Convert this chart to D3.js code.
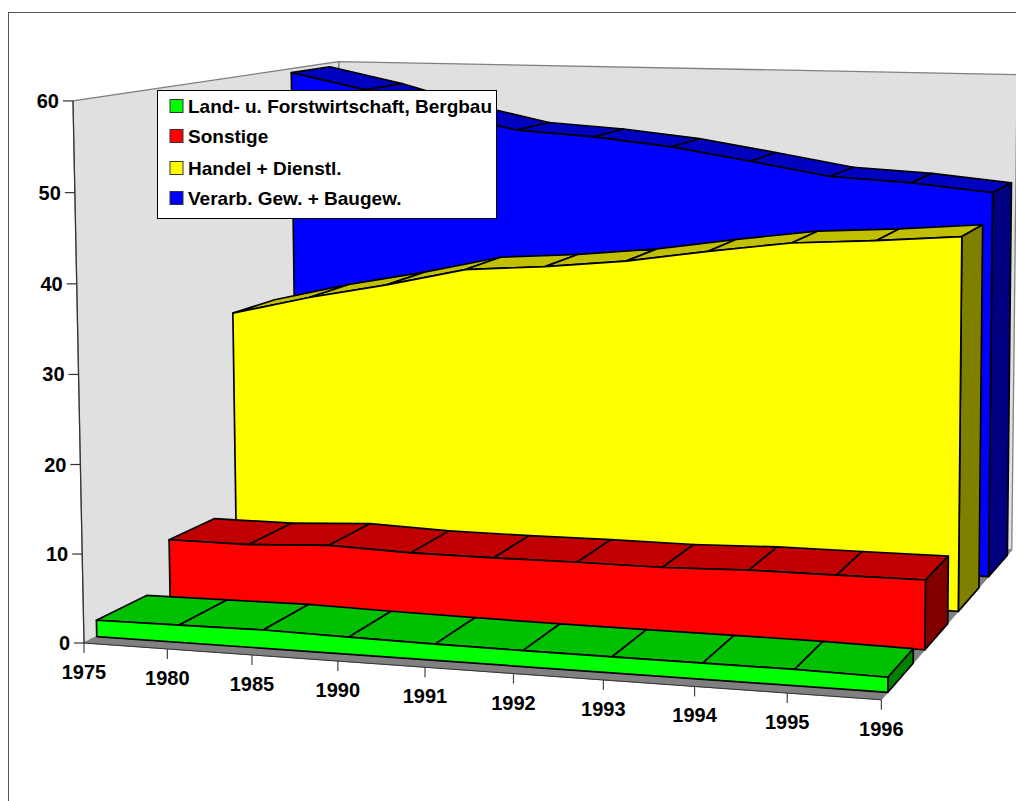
<!DOCTYPE html>
<html>
<head>
<meta charset="utf-8">
<script src="https://cdn.jsdelivr.net/npm/d3@7"></script>
<style>
  html, body { margin: 0; padding: 0; background: #fff; overflow: hidden; }
  text { font-family: "Liberation Sans", Arial, sans-serif; font-weight: bold; fill: #000; }
</style>
</head>
<body>
<script>
const years = ["1975", "1980", "1985", "1990", "1991", "1992", "1993", "1994", "1995", "1996"];
const yTicks = [0, 10, 20, 30, 40, 50, 60];

// back to front
const seriesNames = ["Verarb. Gew. + Baugew.", "Handel + Dienstl.", "Sonstige", "Land- u. Forstwirtschaft, Bergbau"];
const verarb = [59.5, 57.5, 54.9, 52.9, 52.3, 51.3, 49.8, 48.2, 47.7, 46.8];
const handel = [31.3, 33.6, 35.5, 37.7, 38.4, 39.4, 40.9, 42.2, 42.8, 43.6];
const sonstige = [7.1, 7.1, 7.6, 7.3, 7.3, 7.4, 7.4, 7.7, 7.75, 7.8];
const land = [1.85, 1.95, 2.05, 1.9, 1.8, 1.75, 1.75, 1.75, 1.75, 1.6];
const seriesValues = [verarb, handel, sonstige, land];

const frontColors = ["#0000ff", "#ffff00", "#ff0000", "#00ff00"];
const topColors = ["#0000c0", "#c0c000", "#c00000", "#00c000"];
const sideColors = ["#000080", "#808000", "#800000", "#008000"];

const width = 1016, height = 801;

const svg = d3.select("body").append("svg")
  .attr("width", width)
  .attr("height", height);

// chart space -> screen, three vanishing points
const project = (u, d, h) => {
  const w = 1 - 0.066 * u + 0.207 * d - 0.01813 * h;
  return [
    (84 + 739.2 * u + 331.2 * d - 12.33 * h) / w,
    (643 + 10.56 * u - 25.9 * d - 543.9 * h) / w
  ];
};

const xScale = d3.scalePoint().domain(years).range([0, 1]);
const yScale = d3.scaleLinear().domain([0, 60]).range([0, 1]);
// seriesNames[0] sits at the back wall
const depthScale = d3.scaleBand().domain(d3.range(4)).range([1, 0]).paddingInner(0.328).paddingOuter(0.164);

const line = d3.line();
const poly = pts => line(pts.map(p => project(p[0], p[1], p[2]))) + "Z";

// frame
svg.append("rect")
  .attr("x", 8.5).attr("y", 12.5)
  .attr("width", 1040).attr("height", 840)
  .attr("fill", "#fff").attr("stroke", "#555").attr("stroke-width", 1);

// walls and floor
const walls = svg.append("g");
walls.append("path")
  .attr("d", poly([[0, 0, 0], [0, 0, 1], [0, 1, 1], [0, 1, 0]]))
  .attr("fill", "#e0e0e0").attr("stroke", "#808080").attr("stroke-width", 1.3);
walls.append("path")
  .attr("d", poly([[0, 1, 0], [0, 1, 1], [1, 1, 1], [1, 1, 0]]))
  .attr("fill", "#e0e0e0").attr("stroke", "#808080").attr("stroke-width", 1.3);
walls.append("path")
  .attr("d", poly([[0, 0, 0], [1, 0, 0], [1, 1, 0], [0, 1, 0]]))
  .attr("fill", "#808080").attr("stroke", "#808080").attr("stroke-width", 1);

// ribbons, back to front
seriesValues.forEach((values, s) => {
  const d0 = depthScale(s);
  const d1 = d0 + depthScale.bandwidth();
  const g = svg.append("g").attr("stroke", "#000").attr("stroke-width", 1.7).attr("stroke-linejoin", "round");
  const us = years.map(y => xScale(y));
  const hs = values.map(v => yScale(v));

  // top strips
  for (let i = 0; i < us.length - 1; i++) {
    g.append("path")
      .attr("d", poly([[us[i], d0, hs[i]], [us[i + 1], d0, hs[i + 1]], [us[i + 1], d1, hs[i + 1]], [us[i], d1, hs[i]]]))
      .attr("fill", topColors[s]);
  }
  // right end
  const last = us.length - 1;
  g.append("path")
    .attr("d", poly([[us[last], d0, 0], [us[last], d0, hs[last]], [us[last], d1, hs[last]], [us[last], d1, 0]]))
    .attr("fill", sideColors[s]);
  // front face
  const front = [[us[0], d0, 0]].concat(us.map((u, i) => [u, d0, hs[i]]), [[us[last], d0, 0]]);
  g.append("path").attr("d", poly(front)).attr("fill", frontColors[s]);
});

// y axis
const yAxis = svg.append("g");
yAxis.append("path")
  .attr("d", line([project(0, 0, 0), project(0, 0, 1)]))
  .attr("stroke", "#333").attr("stroke-width", 1.2).attr("fill", "none");
yTicks.forEach(t => {
  const [px, py] = project(0, 0, yScale(t));
  yAxis.append("line")
    .attr("x1", px - 10).attr("x2", px).attr("y1", py).attr("y2", py)
    .attr("stroke", "#333").attr("stroke-width", 1.2);
  yAxis.append("text")
    .attr("x", px - 14).attr("y", py + 7)
    .attr("text-anchor", "end")
    .attr("font-size", 20)
    .text(t);
});

// x axis
const xAxis = svg.append("g");
xAxis.append("path")
  .attr("d", line([project(0, 0, 0), project(1, 0, 0)]))
  .attr("stroke", "#333").attr("stroke-width", 1).attr("fill", "none");
years.forEach(y => {
  const [px, py] = project(xScale(y), 0, 0);
  xAxis.append("line")
    .attr("x1", px).attr("x2", px).attr("y1", py).attr("y2", py + 10)
    .attr("stroke", "#444").attr("stroke-width", 1.2);
  xAxis.append("text")
    .attr("x", px).attr("y", py + 36)
    .attr("text-anchor", "middle")
    .attr("font-size", 20)
    .text(y);
});

// legend, top row is the front series
const legend = svg.append("g");
legend.append("rect")
  .attr("x", 157.5).attr("y", 90.5).attr("width", 339).attr("height", 128)
  .attr("fill", "#fff").attr("stroke", "#000").attr("stroke-width", 1);
const legendBaselines = [112.5, 142.5, 174.5, 204.5];
d3.range(4).forEach(i => {
  const s = 3 - i;
  legend.append("rect")
    .attr("x", 170).attr("y", legendBaselines[i] - 13)
    .attr("width", 13).attr("height", 13)
    .attr("fill", frontColors[s]).attr("stroke", "#333").attr("stroke-width", 1);
  legend.append("text")
    .attr("x", 188).attr("y", legendBaselines[i])
    .attr("font-size", 19)
    .text(seriesNames[s]);
});
</script>
</body>
</html>
